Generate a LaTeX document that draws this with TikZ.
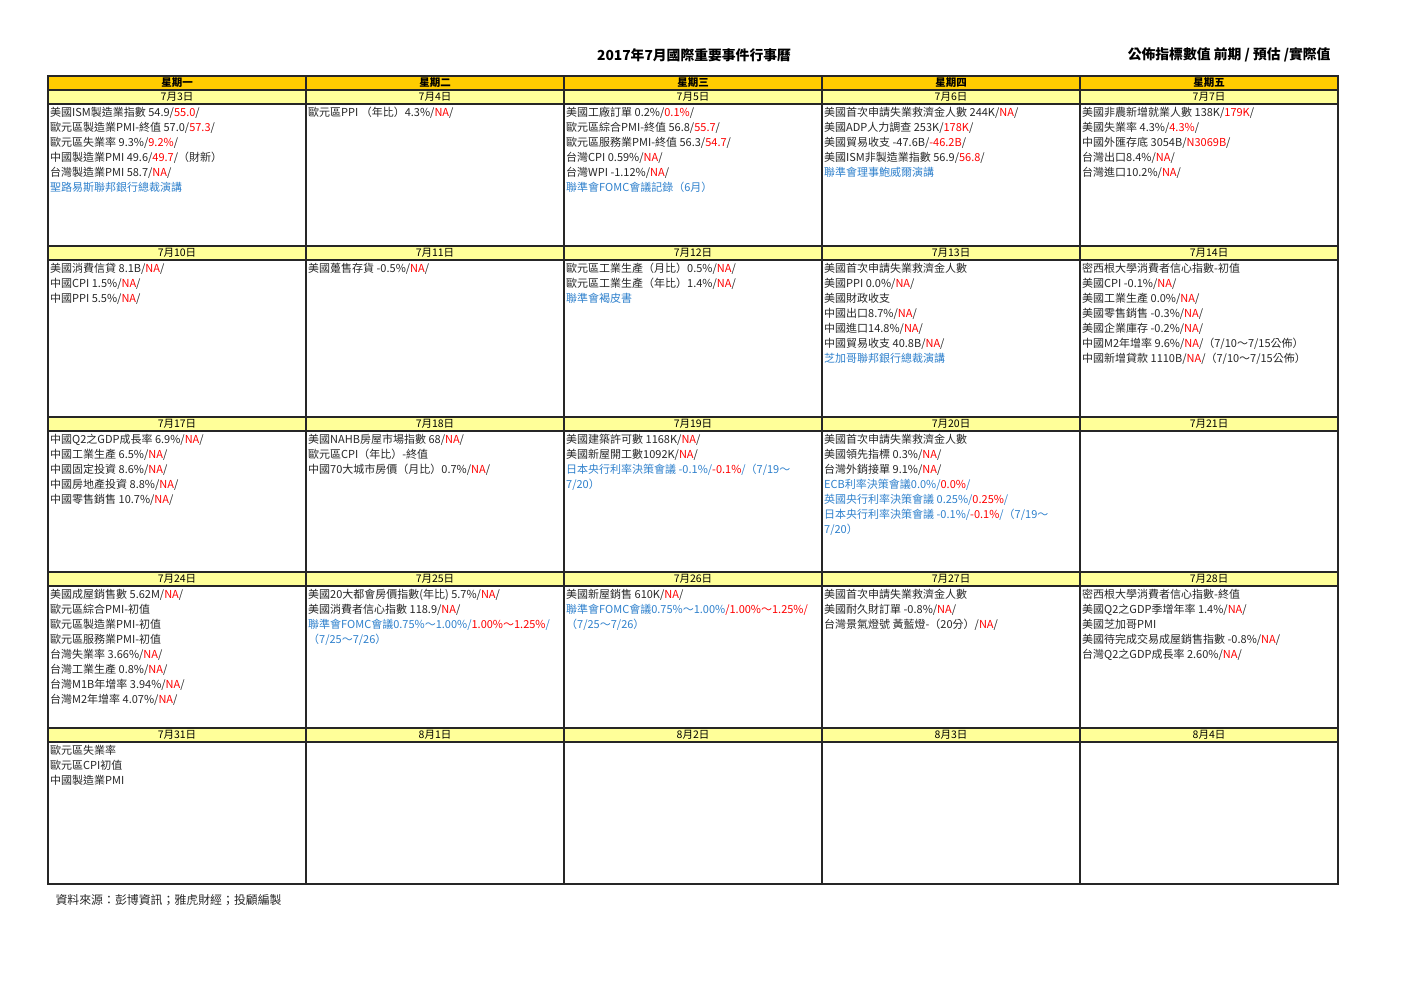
\documentclass[tikz,border=0pt]{standalone}
\usepackage{fontspec}
\setmainfont{Noto Sans CJK TC}
\definecolor{hdrorange}{RGB}{255,204,0}
\definecolor{dateyellow}{RGB}{255,255,153}
\definecolor{actred}{RGB}{255,0,0}
\definecolor{evblue}{RGB}{46,128,204}
\newcommand\actv[1]{\textcolor{actred}{#1}}
\newcommand\fedv[1]{\textcolor{evblue}{#1}}
\begin{document}
\begin{tikzpicture}[x=1pt,y=-1pt,
    gridline/.style={draw=black!85},
    dayname/.style={inner sep=0pt,font=\bfseries\fontsize{10.5}{11}\selectfont},
    daydate/.style={inner sep=0pt,font=\fontsize{10.5}{11}\selectfont},
    events/.style={anchor=north west,inner sep=0pt,align=left,text=black!85,
      font=\fontsize{11}{15}\selectfont}]
  \useasboundingbox (0,0) rectangle (1403,992);
  \node[font=\bfseries\fontsize{13.8}{15}\selectfont] (title) at (694,55) {2017年7月國際重要事件行事曆};
  \node[anchor=east,font=\bfseries\fontsize{13.8}{15}\selectfont] (legend) at (1334,55) {公佈指標數值 前期 / 預估 /實際值};
  \node[anchor=west,text=black!85,font=\fontsize{11.9}{13}\selectfont] (source) at (52,900) {資料來源：彭博資訊；雅虎財經；投顧編製};
  % header and date bands
  \fill[hdrorange] (48,76) rectangle (1338,90);
  \foreach \y in {90,246,417,572,728}
    \fill[dateyellow] (48,\y) rectangle (1338,\y+14);
  \foreach \y in {76,90,104,246,260,417,431,572,586,728,742,884}
    \draw[gridline,line width=1.3pt] (47,\y) -- (1339,\y);
  \foreach \x in {48,306,564,822,1080,1338}
    \draw[gridline,line width=1.7pt] (\x,76) -- (\x,884);
  % weekdays and dates
  \foreach \n/\d in {1/一,2/二,3/三,4/四,5/五}
    \node[dayname] (day\n) at ({177+258*(\n-1)},83) {星期\d};
  \foreach \r/\y/\f in {1/97/3,2/253/10,3/424/17,4/579/24}
    \foreach \c in {1,...,5}{
      \pgfmathtruncatemacro\dd{\f+\c-1}
      \node[daydate] (date\r\c) at ({177+258*(\c-1)},\y) {7月\dd{}日};
    }
  \node[daydate] (date51) at (177,735) {7月31日};
  \foreach \c in {2,...,5}{
    \pgfmathtruncatemacro\dd{\c-1}
    \node[daydate] (date5\c) at ({177+258*(\c-1)},735) {8月\dd{}日};
  }
  % week 1
  \node[events] (ev11) at (50,107) {美國ISM製造業指數 54.9/\actv{55.0}/\\歐元區製造業PMI-終值 57.0/\actv{57.3}/\\歐元區失業率 9.3\%/\actv{9.2\%}/\\中國製造業PMI 49.6/\actv{49.7}/（財新）\\台灣製造業PMI 58.7/\actv{NA}/\\\fedv{聖路易斯聯邦銀行總裁演講}};
  \node[events] (ev12) at (308,107) {歐元區PPI （年比）4.3\%/\actv{NA}/};
  \node[events] (ev13) at (566,107) {美國工廠訂單 0.2\%/\actv{0.1\%}/\\歐元區綜合PMI-終值 56.8/\actv{55.7}/\\歐元區服務業PMI-終值 56.3/\actv{54.7}/\\台灣CPI 0.59\%/\actv{NA}/\\台灣WPI -1.12\%/\actv{NA}/\\\fedv{聯準會FOMC會議記錄（6月）}};
  \node[events] (ev14) at (824,107) {美國首次申請失業救濟金人數 244K/\actv{NA}/\\美國ADP人力調查 253K/\actv{178K}/\\美國貿易收支 -47.6B/\actv{-46.2B}/\\美國ISM非製造業指數 56.9/\actv{56.8}/\\\fedv{聯準會理事鮑威爾演講}};
  \node[events] (ev15) at (1082,107) {美國非農新增就業人數 138K/\actv{179K}/\\美國失業率 4.3\%/\actv{4.3\%}/\\中國外匯存底 3054B/\actv{N3069B}/\\台灣出口8.4\%/\actv{NA}/\\台灣進口10.2\%/\actv{NA}/};
  % week 2
  \node[events] (ev21) at (50,263) {美國消費信貸 8.1B/\actv{NA}/\\中國CPI 1.5\%/\actv{NA}/\\中國PPI 5.5\%/\actv{NA}/};
  \node[events] (ev22) at (308,263) {美國躉售存貨 -0.5\%/\actv{NA}/};
  \node[events] (ev23) at (566,263) {歐元區工業生產（月比）0.5\%/\actv{NA}/\\歐元區工業生產（年比）1.4\%/\actv{NA}/\\\fedv{聯準會褐皮書}};
  \node[events] (ev24) at (824,263) {美國首次申請失業救濟金人數\\美國PPI 0.0\%/\actv{NA}/\\美國財政收支\\中國出口8.7\%/\actv{NA}/\\中國進口14.8\%/\actv{NA}/\\中國貿易收支 40.8B/\actv{NA}/\\\fedv{芝加哥聯邦銀行總裁演講}};
  \node[events] (ev25) at (1082,263) {密西根大學消費者信心指數-初值\\美國CPI -0.1\%/\actv{NA}/\\美國工業生產 0.0\%/\actv{NA}/\\美國零售銷售 -0.3\%/\actv{NA}/\\美國企業庫存 -0.2\%/\actv{NA}/\\中國M2年增率 9.6\%/\actv{NA}/（7/10～7/15公佈）\\中國新增貸款 1110B/\actv{NA}/（7/10～7/15公佈）};
  % week 3
  \node[events] (ev31) at (50,434) {中國Q2之GDP成長率 6.9\%/\actv{NA}/\\中國工業生產 6.5\%/\actv{NA}/\\中國固定投資 8.6\%/\actv{NA}/\\中國房地產投資 8.8\%/\actv{NA}/\\中國零售銷售 10.7\%/\actv{NA}/};
  \node[events] (ev32) at (308,434) {美國NAHB房屋市場指數 68/\actv{NA}/\\歐元區CPI（年比）-終值\\中國70大城市房價（月比）0.7\%/\actv{NA}/};
  \node[events] (ev33) at (566,434) {美國建築許可數 1168K/\actv{NA}/\\美國新屋開工數1092K/\actv{NA}/\\\fedv{日本央行利率決策會議 -0.1\%/}\actv{-0.1\%}\fedv{/（7/19～}\\\fedv{7/20）}};
  \node[events] (ev34) at (824,434) {美國首次申請失業救濟金人數\\美國領先指標 0.3\%/\actv{NA}/\\台灣外銷接單 9.1\%/\actv{NA}/\\\fedv{ECB利率決策會議0.0\%/}\actv{0.0\%}\fedv{/}\\\fedv{英國央行利率決策會議 0.25\%/}\actv{0.25\%}\fedv{/}\\\fedv{日本央行利率決策會議 -0.1\%/}\actv{-0.1\%}\fedv{/（7/19～}\\\fedv{7/20）}};
  % week 4
  \node[events] (ev41) at (50,589) {美國成屋銷售數 5.62M/\actv{NA}/\\歐元區綜合PMI-初值\\歐元區製造業PMI-初值\\歐元區服務業PMI-初值\\台灣失業率 3.66\%/\actv{NA}/\\台灣工業生產 0.8\%/\actv{NA}/\\台灣M1B年增率 3.94\%/\actv{NA}/\\台灣M2年增率 4.07\%/\actv{NA}/};
  \node[events] (ev42) at (308,589) {美國20大都會房價指數(年比) 5.7\%/\actv{NA}/\\美國消費者信心指數 118.9/\actv{NA}/\\\fedv{聯準會FOMC會議0.75\%～1.00\%/}\actv{1.00\%～1.25\%}\fedv{/}\\\fedv{（7/25～7/26）}};
  \node[events] (ev43) at (566,589) {美國新屋銷售 610K/\actv{NA}/\\\fedv{聯準會FOMC會議0.75\%～1.00\%}\actv{/1.00\%～1.25\%/}\\\fedv{（7/25～7/26）}};
  \node[events] (ev44) at (824,589) {美國首次申請失業救濟金人數\\美國耐久財訂單 -0.8\%/\actv{NA}/\\台灣景氣燈號 黃藍燈-（20分）/\actv{NA}/};
  \node[events] (ev45) at (1082,589) {密西根大學消費者信心指數-終值\\美國Q2之GDP季增年率 1.4\%/\actv{NA}/\\美國芝加哥PMI\\美國待完成交易成屋銷售指數 -0.8\%/\actv{NA}/\\台灣Q2之GDP成長率 2.60\%/\actv{NA}/};
  % week 5
  \node[events] (ev51) at (50,745) {歐元區失業率\\歐元區CPI初值\\中國製造業PMI};
\end{tikzpicture}
\end{document}
